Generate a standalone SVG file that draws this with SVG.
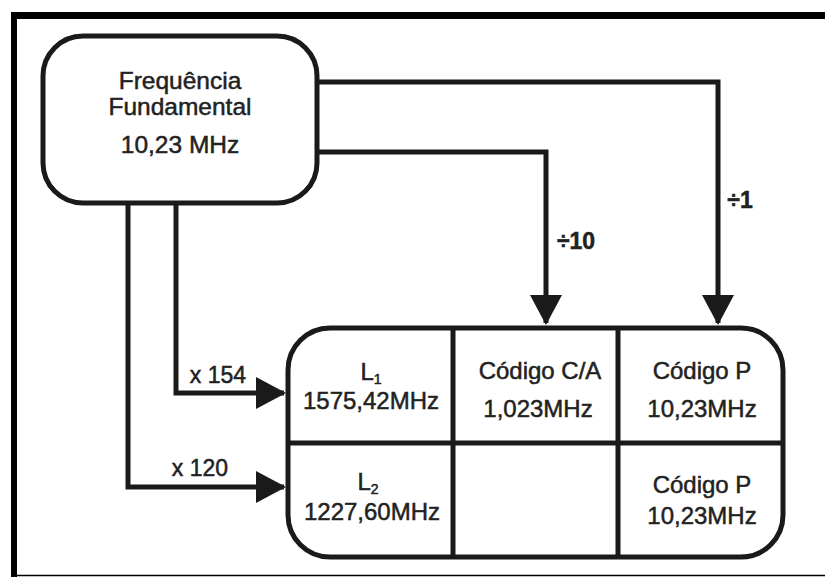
<svg xmlns="http://www.w3.org/2000/svg" width="825" height="577" viewBox="0 0 825 577">
<style>
.t{font-family:"Liberation Sans",Arial,sans-serif;fill:#222;stroke:#222;stroke-width:0.5;text-anchor:middle}
.big{font-size:24.5px}
.m{font-size:24px}
.lbl{font-size:23px}
.box{fill:#fff;stroke:#1a1a1a;stroke-width:5}
.ln{fill:none;stroke:#1a1a1a;stroke-width:5}
</style>
<defs>
<marker id="ah" markerWidth="32" markerHeight="32" refX="28" refY="16" orient="auto" markerUnits="userSpaceOnUse">
<path d="M0,0 L30,16 L0,32 Z" fill="#1a1a1a"/>
</marker>
</defs>
<rect x="0" y="0" width="825" height="577" fill="#fff"/>
<g id="frame">
<rect x="11" y="12" width="814" height="7" fill="#000"/>
<rect x="11" y="12" width="6" height="565" fill="#000"/>
<line x1="11" y1="575.5" x2="825" y2="575.5" stroke="#000" stroke-width="1.5"/>
</g>
<g id="connectors">
<path class="ln" d="M317,82 H718 V323" marker-end="url(#ah)"/>
<path class="ln" d="M317,152 H546 V323" marker-end="url(#ah)"/>
<path class="ln" d="M176,203 V393 H284" marker-end="url(#ah)"/>
<path class="ln" d="M128,203 V487 H284" marker-end="url(#ah)"/>
<text class="t lbl" x="740" y="208" style="font-weight:bold">÷1</text>
<text class="t lbl" x="576" y="249" style="font-weight:bold">÷10</text>
<text class="t lbl" x="218" y="383">x 154</text>
<text class="t lbl" x="200" y="476">x 120</text>
</g>
<g id="source">
<rect class="box" x="43" y="36" width="274" height="167" rx="40"/>
<text class="t big" x="180" y="89">Frequência</text>
<text class="t big" x="180" y="115">Fundamental</text>
<text class="t big" x="180" y="153">10,23 MHz</text>
</g>
<g id="signals">
<rect class="box" x="288" y="328" width="495" height="229" rx="42"/>
<line class="ln" x1="288" y1="443" x2="783" y2="443"/>
<line class="ln" x1="453" y1="328" x2="453" y2="557"/>
<line class="ln" x1="618" y1="328" x2="618" y2="557"/>
</g>
<g id="L1">
<text class="t m" x="371" y="380">L<tspan font-size="14" dy="4">1</tspan></text>
<text class="t m" x="371" y="409">1575,42MHz</text>
</g>
<g id="CA">
<text class="t m" x="540" y="379">Código C/A</text>
<text class="t m" x="538" y="417">1,023MHz</text>
</g>
<g id="P1">
<text class="t m" x="702" y="379">Código P</text>
<text class="t m" x="702" y="417">10,23MHz</text>
</g>
<g id="L2">
<text class="t m" x="368" y="490">L<tspan font-size="14" dy="4">2</tspan></text>
<text class="t m" x="372" y="520">1227,60MHz</text>
</g>
<g id="P2">
<text class="t m" x="702" y="493">Código P</text>
<text class="t m" x="702" y="524">10,23MHz</text>
</g>
</svg>
